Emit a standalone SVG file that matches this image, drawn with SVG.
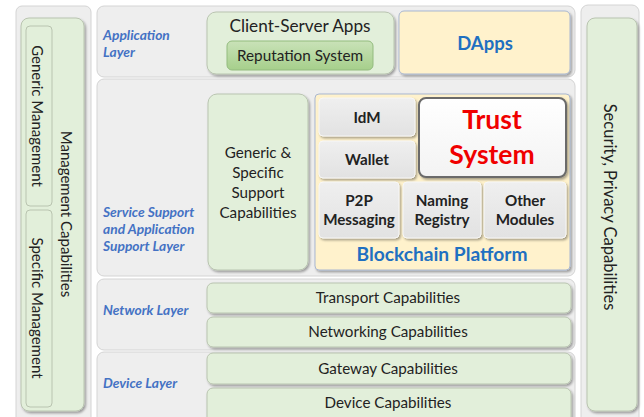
<svg xmlns="http://www.w3.org/2000/svg" width="644" height="417" viewBox="0 0 644 417">
<defs>
<filter id="sh" x="-10%" y="-10%" width="130%" height="130%">
<feDropShadow dx="1.5" dy="1.8" stdDeviation="1" flood-color="#000" flood-opacity="0.35"/>
</filter>
<linearGradient id="rep" x1="0" y1="0" x2="0" y2="1">
<stop offset="0" stop-color="#c9e2b8"/>
<stop offset="1" stop-color="#a6cf8b"/>
</linearGradient>
<linearGradient id="mod" x1="0" y1="0" x2="0" y2="1">
<stop offset="0" stop-color="#efefef"/>
<stop offset="1" stop-color="#e2e2e2"/>
</linearGradient>
<linearGradient id="trust" x1="0" y1="0" x2="0" y2="1">
<stop offset="0" stop-color="#ffffff"/>
<stop offset="1" stop-color="#f3f3f3"/>
</linearGradient>
</defs>
<style>
text{font-family:Lato,"Liberation Sans",sans-serif;fill:#222}
.panel{fill:#eeeeee;stroke:#d4d4d4;stroke-width:1}
.green{fill:#e2efda;stroke:#b9c4b0;stroke-width:1;filter:url(#sh)}
.yellow{fill:#fff2cc;stroke:#a9b7d0;stroke-width:1;filter:url(#sh)}
.mod{fill:url(#mod);stroke:#f7f7f7;stroke-width:1;filter:url(#sh)}
.layer{font-style:italic;font-weight:bold;font-size:13.8px;fill:#4472c4}
.cap{font-size:15.2px;text-anchor:middle}
.modt{font-size:15.2px;font-weight:bold;text-anchor:middle}
.vt{font-size:15px;text-anchor:middle}
</style>

<g id="connectors"></g>

<!-- Left management panel -->
<g id="management">
<rect class="panel" x="16" y="6" width="75" height="420" rx="6"/>
<rect class="green" x="21" y="18" width="63" height="393" rx="8"/>
<text class="vt" transform="translate(66,214) rotate(90)" dy="0.35em">Management Capabilities</text>
</g>
<g id="generic-management">
<rect x="26" y="26" width="26" height="180" rx="4" fill="#e2efda" stroke="#b9c4b0"/>
<text class="vt" transform="translate(37,116) rotate(90)" dy="0.35em">Generic Management</text>
</g>
<g id="specific-management">
<rect x="26" y="210" width="26" height="197" rx="4" fill="#e2efda" stroke="#b9c4b0"/>
<text class="vt" transform="translate(37,308) rotate(90)" dy="0.35em">Specific Management</text>
</g>

<!-- Layers -->
<g id="application-layer">
<rect class="panel" x="97" y="6" width="478" height="71" rx="7"/>
<text class="layer" x="103" y="40">Application</text>
<text class="layer" x="103" y="57">Layer</text>
</g>
<g id="service-layer">
<rect class="panel" x="97" y="79" width="478" height="197" rx="7"/>
<text class="layer" x="103" y="217">Service Support</text>
<text class="layer" x="103" y="234">and Application</text>
<text class="layer" x="103" y="251">Support Layer</text>
</g>
<g id="network-layer">
<rect class="panel" x="97" y="279" width="478" height="71" rx="7"/>
<text class="layer" x="103" y="315">Network Layer</text>
</g>
<g id="device-layer">
<rect class="panel" x="97" y="352" width="478" height="75" rx="7"/>
<text class="layer" x="103" y="388">Device Layer</text>
</g>

<!-- Application layer content -->
<g id="client-server-apps">
<rect class="green" x="207" y="12" width="187" height="62" rx="9"/>
<text x="300" y="32" font-size="17.2" text-anchor="middle">Client-Server Apps</text>
</g>
<g id="reputation-system">
<rect x="227" y="41" width="146" height="29" rx="5" fill="url(#rep)" stroke="#93bb7e"/>
<text x="300" y="61" font-size="15.3" text-anchor="middle">Reputation System</text>
</g>
<g id="dapps">
<rect class="yellow" x="399" y="11" width="171" height="63" rx="5"/>
<text x="485" y="50" font-size="18.5" font-weight="bold" text-anchor="middle" style="fill:#1f70c1">DApps</text>
</g>

<!-- Service layer content -->
<g id="generic-specific-support">
<rect class="green" x="208" y="94" width="100" height="176" rx="9"/>
<text class="cap" x="258" y="158">Generic &amp;</text>
<text class="cap" x="258" y="178">Specific</text>
<text class="cap" x="258" y="198">Support</text>
<text class="cap" x="258" y="218">Capabilities</text>
</g>
<g id="blockchain-platform">
<rect class="yellow" x="315" y="94" width="255" height="176" rx="4"/>
<text x="442" y="261" font-size="19.2" font-weight="bold" text-anchor="middle" style="fill:#1f70c1">Blockchain Platform</text>
</g>
<g id="idm">
<rect class="mod" x="319" y="98" width="96" height="38" rx="4"/>
<text class="modt" x="367" y="123">IdM</text>
</g>
<g id="wallet">
<rect class="mod" x="319" y="141" width="96" height="37" rx="4"/>
<text class="modt" x="367" y="165">Wallet</text>
</g>
<g id="trust-system">
<rect x="419" y="98" width="147" height="79" rx="7" fill="url(#trust)" stroke="#6b6b6b" stroke-width="2" filter="url(#sh)"/>
<text x="492" y="129" font-size="26.5" font-weight="bold" text-anchor="middle" style="fill:#f00000">Trust</text>
<text x="492" y="164" font-size="26.5" font-weight="bold" text-anchor="middle" style="fill:#f00000">System</text>
</g>
<g id="p2p-messaging">
<rect class="mod" x="319" y="182" width="80" height="56" rx="4"/>
<text class="modt" x="359" y="206">P2P</text>
<text class="modt" x="359" y="225">Messaging</text>
</g>
<g id="naming-registry">
<rect class="mod" x="403" y="182" width="78" height="56" rx="4"/>
<text class="modt" x="442" y="206">Naming</text>
<text class="modt" x="442" y="225">Registry</text>
</g>
<g id="other-modules">
<rect class="mod" x="484" y="182" width="82" height="56" rx="4"/>
<text class="modt" x="525" y="206">Other</text>
<text class="modt" x="525" y="225">Modules</text>
</g>

<!-- Network layer content -->
<g id="transport-capabilities">
<rect class="green" x="207" y="283" width="364" height="30" rx="6"/>
<text class="cap" x="388" y="303">Transport Capabilities</text>
</g>
<g id="networking-capabilities">
<rect class="green" x="207" y="317" width="364" height="30" rx="6"/>
<text class="cap" x="388" y="337">Networking Capabilities</text>
</g>

<!-- Device layer content -->
<g id="gateway-capabilities">
<rect class="green" x="207" y="353" width="364" height="31" rx="6"/>
<text class="cap" x="388" y="374">Gateway Capabilities</text>
</g>
<g id="device-capabilities">
<rect class="green" x="207" y="388" width="364" height="36" rx="6"/>
<text class="cap" x="388" y="408">Device Capabilities</text>
</g>

<!-- Right security panel -->
<g id="security-privacy">
<rect class="panel" x="581" y="5" width="58" height="422" rx="7"/>
<rect class="green" x="587" y="18" width="50" height="393" rx="8"/>
<text class="vt" transform="translate(610,207) rotate(90)" dy="0.35em" font-size="16.5" style="font-size:16.5px">Security, Privacy Capabilities</text>
</g>
</svg>
